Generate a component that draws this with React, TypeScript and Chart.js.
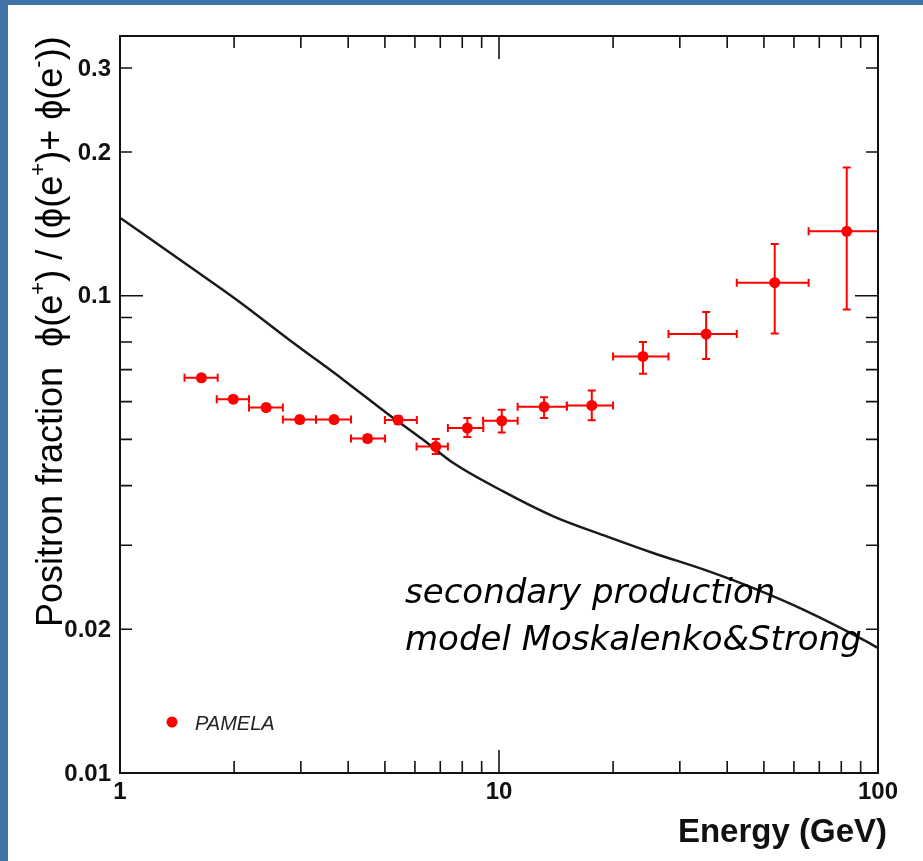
import React, { useEffect, useRef } from "react";
import { Chart, registerables } from "chart.js";

Chart.register(...registerables);

// PAMELA positron fraction data
const energy = [1.64, 1.99, 2.43, 2.98, 3.67, 4.5, 5.42, 6.81, 8.25, 10.17, 13.15, 17.57, 23.98, 35.2, 53.4, 82.7];
const fraction = [0.0673, 0.0607, 0.0583, 0.055, 0.055, 0.0502, 0.0549, 0.0483, 0.0528, 0.0547, 0.0585, 0.0589, 0.0746, 0.0831, 0.1065, 0.1364];
const binLow = [1.48, 1.8, 2.19, 2.69, 3.29, 4.07, 5.0, 6.06, 7.33, 9.08, 11.2, 15.1, 20.0, 28.0, 42.4, 65.6];
const binHigh = [1.81, 2.19, 2.69, 3.29, 4.07, 5.0, 6.07, 7.33, 9.09, 11.2, 15.1, 20.0, 28.0, 42.4, 65.6, 100];
const fracLow = [0.0663, 0.0598, 0.0574, 0.0542, 0.0542, 0.0494, 0.0539, 0.0466, 0.0506, 0.0517, 0.0554, 0.0548, 0.0686, 0.0737, 0.0833, 0.0935];
const fracHigh = [0.0683, 0.0616, 0.0592, 0.0558, 0.0558, 0.051, 0.0559, 0.0501, 0.0554, 0.0577, 0.0613, 0.0633, 0.08, 0.0924, 0.1283, 0.1855];

// Secondary production model (Moskalenko & Strong)
const modelE = [1, 1.5, 2.03, 2.87, 3.88, 5.05, 6.31, 7.58, 10.26, 13.91, 18.84, 25.5, 34.6, 46.9, 63.5, 93.4, 100];
const modelF = [0.1457, 0.1162, 0.0981, 0.0796, 0.0667, 0.0568, 0.0499, 0.0446, 0.0389, 0.0345, 0.0315, 0.0289, 0.0267, 0.0244, 0.022, 0.01885, 0.01828];

// Axes
const xMin = 1;
const xMax = 100;
const yMin = 0.01;
const yMax = 0.35;
const xMajorTicks = [10, 100];
const xMinorTicks = [2, 3, 4, 5, 6, 7, 8, 9, 20, 30, 40, 50, 60, 70, 80, 90];
const yMajorTicks = [0.1];
const yMinorTicks = [0.02, 0.03, 0.04, 0.05, 0.06, 0.07, 0.08, 0.09, 0.2, 0.3];
const xTickLabels = [1, 10, 100];
const yTickLabels = [0.01, 0.02, 0.1, 0.2, 0.3];

const xTitle = "Energy (GeV)";
const yTitleMain = "Positron fraction";
const annotationLines = ["secondary production", "model Moskalenko&Strong"];
const legendLabel = "PAMELA";

const SANS = '"Liberation Sans", Arial, Helvetica, sans-serif';

const decorPlugin = {
  id: "decor",
  beforeDatasetsDraw(chart: any) {
    const ctx = chart.ctx as CanvasRenderingContext2D;
    const xs = chart.scales.x;
    const ys = chart.scales.y;
    const a = chart.chartArea;
    ctx.save();
    ctx.beginPath();
    ctx.rect(a.left, a.top, a.right - a.left, a.bottom - a.top);
    ctx.clip();
    ctx.strokeStyle = "#ff0000";
    ctx.lineWidth = 2;
    const cap = 4;
    for (let i = 0; i < energy.length; i++) {
      const px = xs.getPixelForValue(energy[i]);
      const py = ys.getPixelForValue(fraction[i]);
      const x0 = xs.getPixelForValue(binLow[i]);
      const x1 = xs.getPixelForValue(binHigh[i]);
      const y0 = ys.getPixelForValue(fracLow[i]);
      const y1 = ys.getPixelForValue(fracHigh[i]);
      ctx.beginPath();
      ctx.moveTo(x0, py);
      ctx.lineTo(x1, py);
      ctx.moveTo(x0, py - cap);
      ctx.lineTo(x0, py + cap);
      ctx.moveTo(x1, py - cap);
      ctx.lineTo(x1, py + cap);
      ctx.moveTo(px, y0);
      ctx.lineTo(px, y1);
      ctx.moveTo(px - cap, y0);
      ctx.lineTo(px + cap, y0);
      ctx.moveTo(px - cap, y1);
      ctx.lineTo(px + cap, y1);
      ctx.stroke();
    }
    ctx.restore();
  },
  afterDraw(chart: any) {
    const ctx = chart.ctx as CanvasRenderingContext2D;
    const xs = chart.scales.x;
    const ys = chart.scales.y;
    const a = chart.chartArea;
    ctx.save();
    // frame
    ctx.strokeStyle = "#111";
    ctx.lineWidth = 2;
    ctx.strokeRect(a.left, a.top, a.right - a.left, a.bottom - a.top);
    // ticks
    ctx.lineWidth = 1.6;
    const drawX = (v: number, len: number) => {
      const x = xs.getPixelForValue(v);
      ctx.beginPath();
      ctx.moveTo(x, a.bottom);
      ctx.lineTo(x, a.bottom - len);
      ctx.moveTo(x, a.top);
      ctx.lineTo(x, a.top + len);
      ctx.stroke();
    };
    const drawY = (v: number, len: number) => {
      const y = ys.getPixelForValue(v);
      ctx.beginPath();
      ctx.moveTo(a.left, y);
      ctx.lineTo(a.left + len, y);
      ctx.moveTo(a.right, y);
      ctx.lineTo(a.right - len, y);
      ctx.stroke();
    };
    xMinorTicks.forEach((v) => drawX(v, 12));
    xMajorTicks.forEach((v) => drawX(v, 23));
    yMinorTicks.forEach((v) => drawY(v, 12));
    yMajorTicks.forEach((v) => drawY(v, 23));

    // tick labels
    ctx.fillStyle = "#111";
    ctx.font = `bold 24px ${SANS}`;
    ctx.textAlign = "right";
    ctx.textBaseline = "middle";
    yTickLabels.forEach((v) => {
      ctx.fillText(String(v), a.left - 9, ys.getPixelForValue(v) + 1);
    });
    ctx.textAlign = "center";
    xTickLabels.forEach((v) => {
      ctx.fillText(String(v), xs.getPixelForValue(v), a.bottom + 19);
    });

    // x title
    ctx.font = `bold 33px ${SANS}`;
    ctx.textAlign = "right";
    ctx.textBaseline = "alphabetic";
    ctx.fillText(xTitle, a.right + 9, a.bottom + 69);

    // y title (rotated)
    ctx.save();
    ctx.translate(62, 627);
    ctx.rotate(-Math.PI / 2);
    ctx.textAlign = "left";
    ctx.textBaseline = "alphabetic";
    ctx.fillStyle = "#000";
    const fs = 36;
    const normal = `${fs}px ${SANS}`;
    const sup = `22px ${SANS}`;
    ctx.font = normal;
    ctx.fillText(yTitleMain, 0, 0);
    let cx = ctx.measureText(yTitleMain).width + 20;
    const pieces: [string, boolean][] = [
      ["\u03D5(e", false],
      ["+", true],
      [") / (\u03D5(e", false],
      ["+", true],
      [")+ \u03D5(e", false],
      ["-", true],
      ["))", false],
    ];
    pieces.forEach(([t, s]) => {
      ctx.font = s ? sup : normal;
      ctx.fillText(t, cx, s ? -17 : 0);
      cx += ctx.measureText(t).width;
    });
    ctx.restore();

    // annotation
    ctx.font = `oblique 34px "DejaVu Sans", Verdana, sans-serif`;
    ctx.textAlign = "left";
    ctx.fillStyle = "#000";
    ctx.fillText(annotationLines[0], 405, 603);
    ctx.fillText(annotationLines[1], 405, 650);

    // legend
    ctx.fillStyle = "#ff0000";
    ctx.beginPath();
    ctx.arc(172, 722, 5.5, 0, Math.PI * 2);
    ctx.fill();
    ctx.fillStyle = "#222";
    ctx.font = `italic 20px ${SANS}`;
    ctx.textBaseline = "middle";
    ctx.fillText(legendLabel, 195, 724);
    ctx.restore();
  },
};

export default function App() {
  const ref = useRef<HTMLCanvasElement>(null);
  useEffect(() => {
    const canvas = ref.current;
    if (!canvas) return;
    const chart = new Chart(canvas, {
      type: "scatter",
      data: {
        datasets: [
          {
            type: "line",
            label: "model",
            data: modelE.map((x, i) => ({ x, y: modelF[i] })),
            borderColor: "#1a1a1a",
            borderWidth: 2.5,
            pointRadius: 0,
            cubicInterpolationMode: "monotone",
            fill: false,
            order: 2,
          } as any,
          {
            type: "scatter",
            label: legendLabel,
            data: energy.map((x, i) => ({ x, y: fraction[i] })),
            pointRadius: 5.5,
            pointBackgroundColor: "#ff0000",
            backgroundColor: "#ff0000",
            borderWidth: 0,
            order: 1,
          } as any,
        ],
      },
      options: {
        animation: false,
        responsive: false,
        devicePixelRatio: 1,
        layout: { padding: { top: 36, right: 45, left: 0, bottom: 0 } },
        scales: {
          x: {
            type: "logarithmic",
            min: xMin,
            max: xMax,
            ticks: { display: false },
            grid: { display: false },
            border: { display: false },
            afterFit: (s: any) => {
              s.height = 88;
            },
          },
          y: {
            type: "logarithmic",
            min: yMin,
            max: yMax,
            ticks: { display: false },
            grid: { display: false },
            border: { display: false },
            afterFit: (s: any) => {
              s.width = 120;
            },
          },
        },
        plugins: { legend: { display: false }, tooltip: { enabled: false } },
      } as any,
      plugins: [decorPlugin],
    });
    return () => chart.destroy();
  }, []);

  return (
    <div style={{ position: "absolute", left: 0, top: 0, width: 923, height: 861, background: "#4074a8", overflow: "hidden" }}>
      <div style={{ position: "absolute", left: 8, top: 5, right: 0, bottom: 0, background: "#ffffff" }} />
      <canvas ref={ref} width={923} height={861} style={{ position: "absolute", left: 0, top: 0 }} />
    </div>
  );
}
